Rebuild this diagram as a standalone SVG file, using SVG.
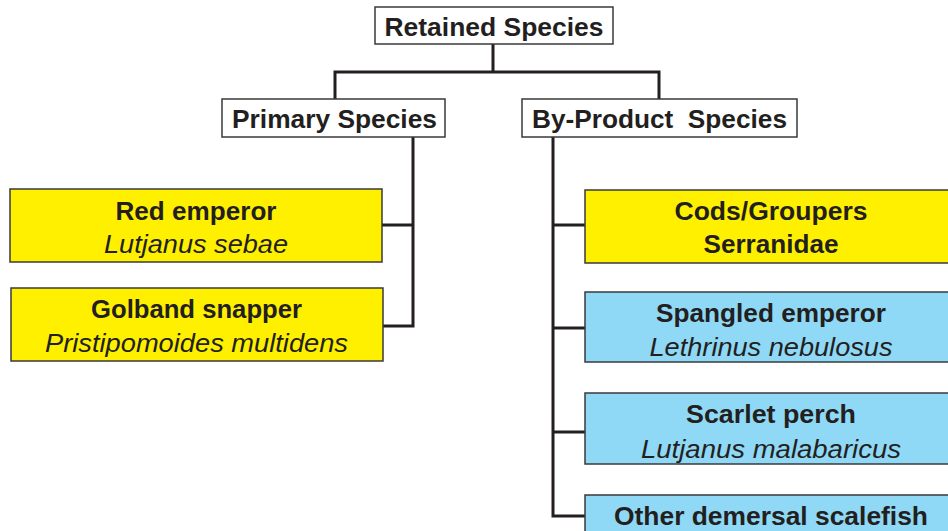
<svg xmlns="http://www.w3.org/2000/svg" width="948" height="531" viewBox="0 0 948 531">
<style>
.box{stroke:#3a3a3a;stroke-width:1.5}
.w{fill:#ffffff}
.y{fill:#fff000}
.b{fill:#8fd8f6}
.t{font-family:"Liberation Sans",Arial,sans-serif;font-weight:bold;font-size:25px;fill:#231f20;text-anchor:middle}
.i{font-family:"Liberation Sans",Arial,sans-serif;font-style:italic;font-size:26px;fill:#231f20;text-anchor:middle}
.c{fill:none;stroke:#231f20;stroke-width:3}
</style>
<rect width="948" height="531" fill="#ffffff"/>
<g id="connectors">
<path class="c" d="M493,44 V72 M335,72 H659 M335,70.5 V100 M659,70.5 V100"/>
<path class="c" d="M413,137 V326 M382,225 H414.5 M383,326 H414.5"/>
<path class="c" d="M553,136 V516 M551.5,225 H585 M551.5,328 H585 M551.5,432 H585 M551.5,516 H585"/>
</g>
<g id="retained">
<rect class="box w" x="375" y="7" width="238" height="37"/>
<text class="t" x="494" y="36" textLength="219" lengthAdjust="spacingAndGlyphs">Retained Species</text>
</g>
<g id="primary">
<rect class="box w" x="222" y="99" width="223" height="38"/>
<text class="t" x="334.5" y="128" textLength="205" lengthAdjust="spacingAndGlyphs">Primary Species</text>
</g>
<g id="byproduct">
<rect class="box w" x="522" y="99" width="275" height="38"/>
<text class="t" x="659.5" y="128" textLength="255" lengthAdjust="spacingAndGlyphs" xml:space="preserve">By-Product  Species</text>
</g>
<g id="red-emperor">
<rect class="box y" x="10" y="189" width="372" height="73"/>
<text class="t" x="196" y="220" textLength="161" lengthAdjust="spacingAndGlyphs">Red emperor</text>
<text class="i" x="196" y="253" textLength="184" lengthAdjust="spacingAndGlyphs">Lutjanus sebae</text>
</g>
<g id="golband-snapper">
<rect class="box y" x="11" y="288" width="372" height="73"/>
<text class="t" x="196.5" y="318" textLength="211" lengthAdjust="spacingAndGlyphs">Golband snapper</text>
<text class="i" x="196.5" y="352" textLength="303" lengthAdjust="spacingAndGlyphs">Pristipomoides multidens</text>
</g>
<g id="cods-groupers">
<rect class="box y" x="585" y="190" width="380" height="73"/>
<text class="t" x="771" y="220" textLength="193" lengthAdjust="spacingAndGlyphs">Cods/Groupers</text>
<text class="t" x="771" y="253" textLength="135" lengthAdjust="spacingAndGlyphs">Serranidae</text>
</g>
<g id="spangled-emperor">
<rect class="box b" x="585" y="292" width="380" height="70"/>
<text class="t" x="771" y="322" textLength="230" lengthAdjust="spacingAndGlyphs">Spangled emperor</text>
<text class="i" x="771" y="356" textLength="243" lengthAdjust="spacingAndGlyphs">Lethrinus nebulosus</text>
</g>
<g id="scarlet-perch">
<rect class="box b" x="585" y="393" width="380" height="71"/>
<text class="t" x="771" y="423" textLength="170" lengthAdjust="spacingAndGlyphs">Scarlet perch</text>
<text class="i" x="771" y="458" textLength="260" lengthAdjust="spacingAndGlyphs">Lutjanus malabaricus</text>
</g>
<g id="other-demersal">
<rect class="box b" x="585" y="495" width="380" height="60"/>
<text class="t" x="771" y="525" textLength="314" lengthAdjust="spacingAndGlyphs">Other demersal scalefish</text>
</g>
</svg>
